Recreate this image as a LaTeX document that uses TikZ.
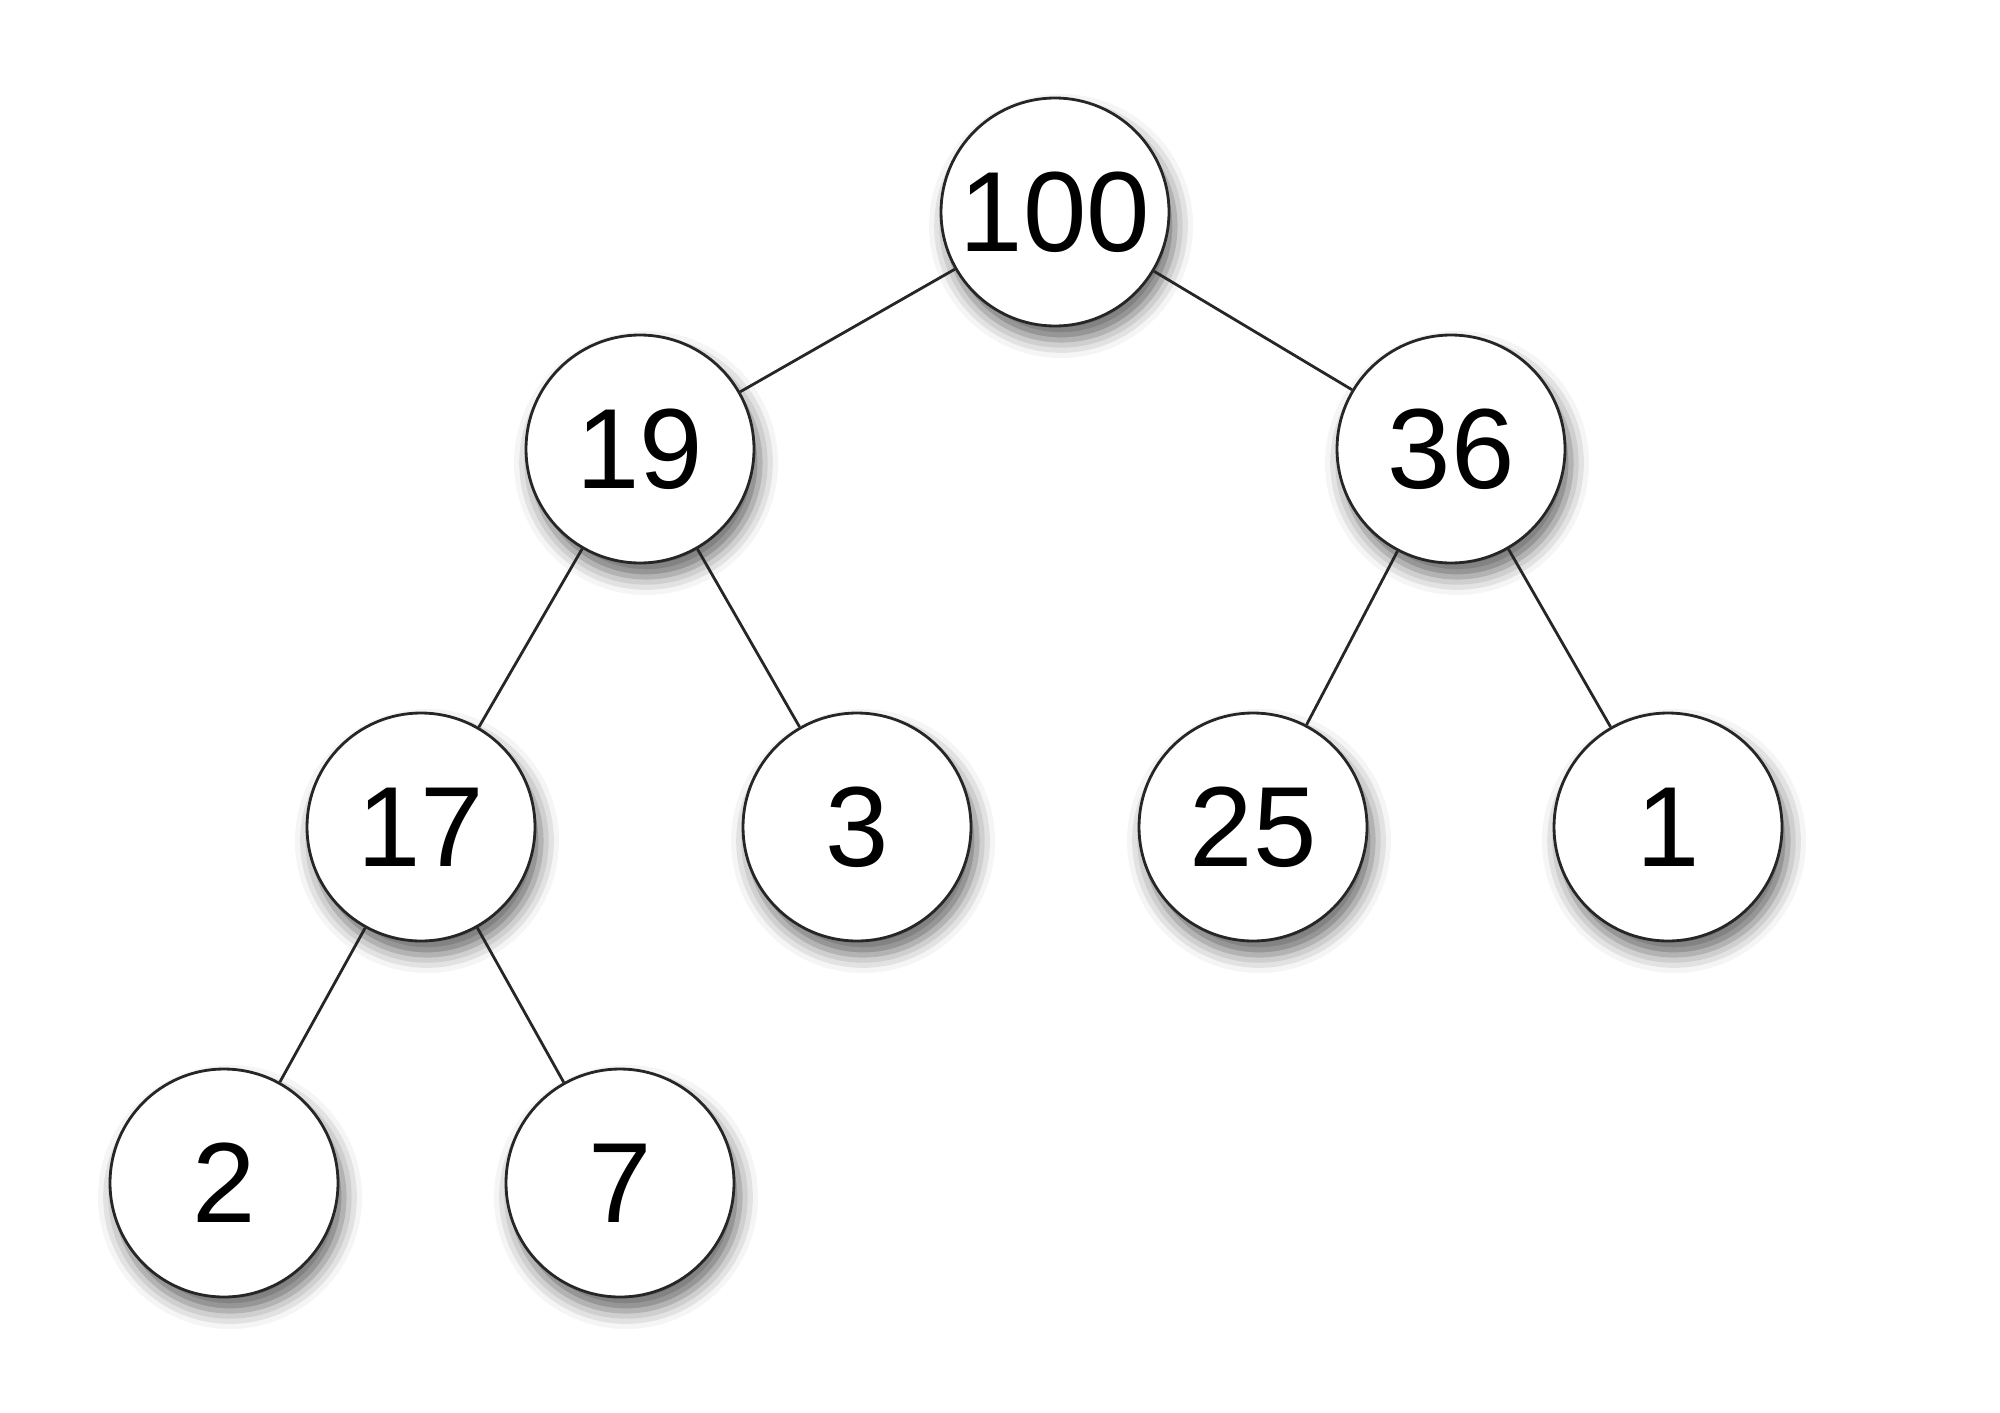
\documentclass[tikz,border=0pt]{standalone}
\usepackage{fontspec}
\setmainfont{Liberation Sans}
\usetikzlibrary{shadows.blur}
\begin{document}
\begin{tikzpicture}[x=0.5pt,y=-0.5pt,
  heapnode/.style={circle,draw=black!85,line width=1.4pt,fill=white,minimum size=114pt,inner sep=0pt,
    font=\fontsize{57}{68}\selectfont,
    blur shadow={shadow xshift=3pt,shadow yshift=-7pt,shadow blur radius=9pt,shadow opacity=60}},
  link/.style={draw=black!85,line width=1.4pt}]
\useasboundingbox (0,0) rectangle (2000,1412);
\node[heapnode] (n100) at (1055,212) {100};
\node[heapnode] (n19) at (640,449) {19};
\node[heapnode] (n36) at (1451,449) {36};
\node[heapnode] (n17) at (421,827) {17};
\node[heapnode] (n3) at (857,827) {3};
\node[heapnode] (n25) at (1253,827) {25};
\node[heapnode] (n1) at (1668,827) {1};
\node[heapnode] (n2) at (224,1183) {2};
\node[heapnode] (n7) at (620,1183) {7};
\draw[link] (n100) -- (n19);
\draw[link] (n100) -- (n36);
\draw[link] (n19) -- (n17);
\draw[link] (n19) -- (n3);
\draw[link] (n36) -- (n25);
\draw[link] (n36) -- (n1);
\draw[link] (n17) -- (n2);
\draw[link] (n17) -- (n7);
\end{tikzpicture}
\end{document}
